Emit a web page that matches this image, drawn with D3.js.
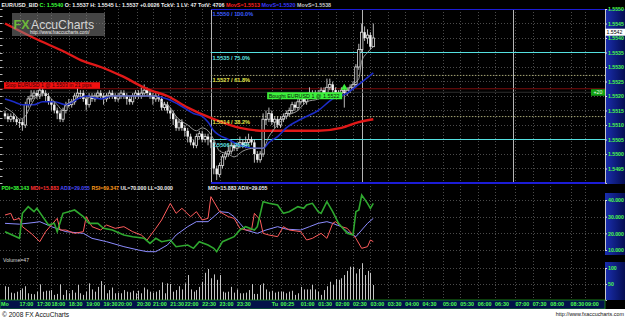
<!DOCTYPE html>
<html>
<head>
<meta charset="utf-8">
<script src="https://cdn.jsdelivr.net/npm/d3@7"></script>
<style>
  html, body { margin: 0; padding: 0; background: #000; }
  svg { display: block; font-family: "Liberation Sans", Arial, sans-serif; }
</style>
</head>
<body>
<div id="chart"></div>
<script>
/* ============================================================
   DATA  (5 minute EUR/USD bars)
============================================================ */

const firstOpen = 1.5514;

const closes = [
  1.5513,1.5512,1.5513,1.5512,1.5511,1.5511,1.5510,1.5517,1.5519,1.5520,
  1.5521,1.5520,1.5522,1.5521,1.5520,1.5518,1.5517,1.5515,1.5514,1.5512,
  1.5515,1.5517,1.5517,1.5518,1.5520,1.5521,1.5521,1.5519,1.5517,1.5520,
  1.5519,1.5520,1.5521,1.5520,1.5519,1.5520,1.5521,1.5520,1.5519,1.5520,
  1.5521,1.5520,1.5519,1.5518,1.5520,1.5521,1.5520,1.5521,1.5522,1.5521,
  1.5520,1.5519,1.5520,1.5519,1.5516,1.5517,1.5515,1.5514,1.5512,1.5509,
  1.5511,1.5509,1.5508,1.5506,1.5504,1.5503,1.5506,1.5507,1.5505,1.5506,
  1.5505,1.5504,1.5495,1.5493,1.5496,1.5499,1.5500,1.5501,1.5503,1.5502,
  1.5503,1.5504,1.5503,1.5504,1.5505,1.5504,1.5500,1.5498,1.5500,1.5512,
  1.5512,1.5514,1.5511,1.5512,1.5510,1.5512,1.5513,1.5514,1.5515,1.5517,
  1.5516,1.5518,1.5519,1.5518,1.5520,1.5521,1.5520,1.5521,1.5520,1.5522,
  1.5521,1.5523,1.5524,1.5522,1.5520,1.5521,1.5522,1.5521,1.5522,1.5523,
  1.5524,1.5530,1.5536,1.5542,1.5540,1.5541,1.5537,1.5540
];

const highs = [
  1.5515,1.5514,1.5514,1.5514,1.5513,1.5512,1.5512,1.5518,1.5520,1.5522,
  1.5522,1.5522,1.5523,1.5523,1.5522,1.5521,1.5519,1.5518,1.5516,1.5515,
  1.5516,1.5518,1.5519,1.5519,1.5521,1.5523,1.5522,1.5522,1.5520,1.5521,
  1.5521,1.5521,1.5522,1.5522,1.5521,1.5521,1.5522,1.5522,1.5521,1.5521,
  1.5522,1.5522,1.5521,1.5520,1.5521,1.5522,1.5522,1.5523,1.5524,1.5523,
  1.5522,1.5521,1.5521,1.5521,1.5520,1.5518,1.5518,1.5516,1.5515,1.5513,
  1.5512,1.5512,1.5510,1.5509,1.5507,1.5505,1.5507,1.5508,1.5508,1.5507,
  1.5507,1.5506,1.5505,1.5496,1.5497,1.5500,1.5501,1.5503,1.5505,1.5504,
  1.5504,1.5506,1.5505,1.5506,1.5507,1.5506,1.5505,1.5501,1.5501,1.5514,
  1.5515,1.5516,1.5515,1.5513,1.5513,1.5513,1.5514,1.5515,1.5516,1.5518,
  1.5518,1.5519,1.5520,1.5520,1.5521,1.5523,1.5522,1.5522,1.5522,1.5523,
  1.5523,1.5526,1.5526,1.5525,1.5523,1.5522,1.5523,1.5523,1.5523,1.5524,
  1.5525,1.5531,1.5538,1.5545,1.5544,1.5543,1.5542,1.5545
];

const lows = [
  1.5512,1.5511,1.5511,1.5511,1.5510,1.5509,1.5508,1.5509,1.5516,1.5518,
  1.5519,1.5519,1.5519,1.5520,1.5518,1.5517,1.5515,1.5514,1.5512,1.5511,
  1.5511,1.5514,1.5516,1.5516,1.5517,1.5519,1.5519,1.5518,1.5515,1.5516,
  1.5518,1.5518,1.5519,1.5519,1.5517,1.5518,1.5519,1.5519,1.5518,1.5518,
  1.5519,1.5519,1.5517,1.5517,1.5517,1.5519,1.5519,1.5519,1.5520,1.5520,
  1.5519,1.5517,1.5518,1.5518,1.5515,1.5515,1.5514,1.5512,1.5510,1.5508,
  1.5508,1.5508,1.5506,1.5504,1.5503,1.5502,1.5502,1.5505,1.5504,1.5504,
  1.5503,1.5502,1.5493,1.5491,1.5492,1.5495,1.5498,1.5499,1.5500,1.5501,
  1.5501,1.5502,1.5502,1.5502,1.5503,1.5503,1.5497,1.5497,1.5497,1.5499,
  1.5510,1.5511,1.5510,1.5509,1.5509,1.5509,1.5511,1.5512,1.5513,1.5514,
  1.5515,1.5515,1.5517,1.5517,1.5517,1.5519,1.5519,1.5519,1.5519,1.5519,
  1.5520,1.5520,1.5522,1.5521,1.5519,1.5519,1.5520,1.5516,1.5520,1.5521,
  1.5522,1.5523,1.5529,1.5535,1.5539,1.5538,1.5536,1.5537
];

const volumes = [
  43,41,23,21,26,31,36,43,21,19,
  18,26,49,26,29,29,31,16,19,49,
  16,31,21,31,23,47,21,16,26,52,
  33,26,41,59,47,21,31,39,21,23,
  21,31,26,24,29,21,29,21,39,33,
  26,23,26,31,55,21,52,50,26,31,
  43,33,52,78,33,26,31,41,57,85,
  97,68,80,63,78,26,23,26,41,23,
  33,21,21,23,31,50,19,19,47,52,
  33,26,29,23,26,26,26,21,26,29,
  16,21,41,33,33,33,47,33,26,16,
  31,43,57,47,65,63,68,78,91,104,
  104,83,97,115,78,91,85,47
];

// moving averages, [bar, price]
const maSlow = [[0,1.5545],[10,1.5540],[21,1.5535],[27,1.5532],[33,1.5530],[40,1.5527],[50,1.5522],
  [56,1.5520],[63,1.5516],[72,1.5512],[81,1.5509],[90,1.5508],[100,1.5508],[108,1.5508],
  [116,1.5509],[122,1.5511],[127,1.5512]];
const maMid = [[0,1.5519],[3,1.5518],[6,1.5517],[10,1.5517],[13,1.5518],[17,1.5518],[21,1.5517],
  [25,1.5519],[28,1.5520],[33,1.5519],[37,1.5520],[42,1.5520],[47,1.5520],[51,1.5520],[56,1.5519],
  [60,1.5517],[65,1.5514],[68,1.5513],[70,1.5511],[72,1.5508],[77,1.5505],[81,1.5503],[86,1.5502],
  [89,1.5502],[91,1.5504],[94,1.5506],[97,1.5509],[102,1.5512],[108,1.5515],[113,1.5519],
  [118,1.5521],[122,1.5524],[127,1.5528]];
const maFast = [[0,1.5516],[3,1.5514],[5,1.5512],[7,1.5513],[9,1.5517],[11,1.5520],[14,1.5521],
  [16,1.5519],[18,1.5517],[20,1.5515],[21,1.5517],[23,1.5518],[26,1.5520],[28,1.5519],[30,1.5520],
  [35,1.5520],[41,1.5520],[44,1.5520],[49,1.5520],[52,1.5520],[54,1.5518],[57,1.5516],[59,1.5513],
  [63,1.5510],[66,1.5508],[68,1.5509],[70,1.5508],[72,1.5505],[74,1.5501],[77,1.5500],[79,1.5499],
  [82,1.5501],[86,1.5502],[89,1.5502],[91,1.5506],[94,1.5510],[97,1.5513],[101,1.5515],
  [104,1.5518],[108,1.5519],[111,1.5521],[114,1.5521],[118,1.5522],[120,1.5524],[122,1.5526],
  [123,1.5532],[125,1.5535],[127,1.5537]];

// DMI indicator, [bar, value]
const pdi = [[0,21],[5,17],[6,32],[8,36],[10,33],[11,35],[13,30],[15,25],[17,26],[18,21],[20,32],
  [22,33],[24,34],[27,30],[29,26],[32,26],[34,23],[37,22],[41,19],[44,18],[48,17],[50,14],[52,17],
  [54,15],[57,16],[59,12],[63,13],[65,11],[67,15],[70,13],[72,11],[73,9],[75,15],[79,18],[81,22],
  [83,24],[86,22],[87,24],[89,39],[91,38],[94,37],[96,32],[98,33],[101,36],[103,35],[104,37],
  [106,38],[108,33],[109,32],[111,39],[113,33],[115,26],[118,20],[120,19],[121,33],[122,34],
  [123,43],[125,38],[126,35],[127,38]];
const mdi = [[0,31],[2,32],[3,28],[5,29],[6,24],[9,20],[12,15],[14,21],[16,25],[18,29],[19,22],
  [21,22],[24,20],[27,21],[28,30],[30,24],[33,22],[35,25],[38,23],[41,24],[44,21],[47,19],[49,16],
  [52,23],[54,28],[57,38],[59,32],[61,35],[64,30],[66,33],[68,28],[70,29],[71,42],[74,33],[77,30],
  [79,29],[81,23],[83,22],[85,22],[86,32],[88,28],[89,20],[91,19],[94,18],[96,24],[98,22],[102,21],
  [104,16],[106,17],[109,20],[111,17],[113,26],[114,27],[116,24],[118,23],[121,17],[123,11],
  [125,12],[126,16],[127,15]];
const adx = [[0,26],[5,25.5],[10,26.5],[12,27],[16,24],[21,21],[27,20],[30,17],[35,15],[41,12],
  [46,10],[49,9],[52,9],[56,13],[59,19],[63,24],[66,27],[70,27],[72,30],[74,33],[77,32.5],[79,30],
  [81,26],[83,22],[87,20],[90,22],[94,24],[97,22.5],[102,22],[105,24],[108,26],[111,27],[113,26],
  [116,24],[118,21],[121,18],[123,22],[125,26],[127,29]];

// Fibonacci retracement
const fibPrices = [1.5550, 1.5535, 1.55271, 1.55129, 1.5505, 1.5490];
const fibLabels = ["1.5550 / 100.0%", "1.5535 / 75.0%", "1.5527 / 61.8%", "1.5514 / 38.2%", "1.5506 / 25.0%", ""];
const fibTimeBars = [71, 123, 175];

// time axis
const timeLabels = ["Mo","17:00","17:30","18:00","18:30","19:00","19:30","20:00","20:30","21:00",
  "21:30","22:00","22:30","23:00","23:30","Tu","00:25","01:00","01:30","02:00","02:30","03:00",
  "03:30","04:00","04:30","05:00","05:30","06:00","06:30","07:00","07:30","08:00","08:30","09:00"];
const timeBars = [-1.4,5,11,16,22,28,34,39,45.5,51,57,62,68,74,80,92,95,102,108,114,120,126,
  132,138,144,151,157,163,169,176,182,188,195,200];

const priceTicks = [1.5495,1.5500,1.5505,1.5510,1.5515,1.5520,1.5525,1.5530,1.5535,1.5540,1.5545,1.5550];
const dmiTicks = [10, 20, 30, 40];
const volTicks = [50, 100];

const tradePrice = 1.55225;
const lastPrice = 1.5542;

/* ============================================================
   SVG + SCALES
============================================================ */

const W = 625, H = 318;
const svg = d3.select("#chart").append("svg").attr("width", W).attr("height", H);

svg.append("rect").attr("width", W).attr("height", H).attr("fill", "#000");

const x = d3.scaleLinear().domain([0, 200]).range([5, 585]);
const yP = d3.scaleLinear().domain([1.5490, 1.5550]).range([183, 9]);
const yI = d3.scaleLinear().domain([10, 40]).range([250, 200]);
const yV = d3.scaleLinear().domain([0, 100]).range([300, 268]);

const defs = svg.append("defs");
const grad = defs.append("linearGradient").attr("id", "axisBg").attr("x1", 0).attr("x2", 1);
grad.append("stop").attr("offset", 0).attr("stop-color", "#1a2fb0");
grad.append("stop").attr("offset", 1).attr("stop-color", "#050d52");

defs.append("clipPath").attr("id", "clipMain")
  .append("rect").attr("x", 0).attr("y", 9).attr("width", 605).attr("height", 176);
defs.append("clipPath").attr("id", "clipInd")
  .append("rect").attr("x", 0).attr("y", 185).attr("width", 605).attr("height", 71);

/* ============================================================
   GRID
============================================================ */

const grid = svg.append("g").attr("stroke", "#4a4a4a").attr("stroke-dasharray", "1,2");

grid.selectAll("line.v")
  .data(timeBars.slice(1))
  .join("line")
  .attr("x1", d => Math.round(x(d)) + 0.5).attr("x2", d => Math.round(x(d)) + 0.5)
  .attr("y1", 9).attr("y2", 300);

grid.selectAll("line.hp")
  .data(priceTicks.slice(0, -1))
  .join("line")
  .attr("x1", 0).attr("x2", 605)
  .attr("y1", d => Math.round(yP(d)) + 0.5).attr("y2", d => Math.round(yP(d)) + 0.5);

grid.selectAll("line.hi")
  .data(dmiTicks)
  .join("line")
  .attr("x1", 0).attr("x2", 605)
  .attr("y1", d => Math.round(yI(d)) + 0.5).attr("y2", d => Math.round(yI(d)) + 0.5);

grid.selectAll("line.hv")
  .data(volTicks)
  .join("line")
  .attr("x1", 0).attr("x2", 605)
  .attr("y1", d => Math.round(yV(d)) + 0.5).attr("y2", d => Math.round(yV(d)) + 0.5);

// little ticks on the left edge of the price panel
svg.append("g").selectAll("line")
  .data(d3.range(1.5490, 1.5551, 0.00025))
  .join("line")
  .attr("x1", 0).attr("x2", 2.5)
  .attr("y1", d => Math.round(yP(d)) + 0.5).attr("y2", d => Math.round(yP(d)) + 0.5)
  .attr("stroke", "#bbb");

/* ============================================================
   PRICE PANEL
============================================================ */

const main = svg.append("g").attr("clip-path", "url(#clipMain)");

// fib time lines
main.selectAll("line.ft")
  .data(fibTimeBars)
  .join("line")
  .attr("x1", d => Math.round(x(d)) + 0.5).attr("x2", d => Math.round(x(d)) + 0.5)
  .attr("y1", 9).attr("y2", 183)
  .attr("stroke", "#b4b4b4");

// trade line
main.append("line")
  .attr("x1", 0).attr("x2", 605)
  .attr("y1", yP(tradePrice)).attr("y2", yP(tradePrice))
  .attr("stroke", "#7a0b0b").attr("stroke-width", 1.2);
main.append("line")
  .attr("x1", 0).attr("x2", 605)
  .attr("y1", yP(tradePrice) + 3.5).attr("y2", yP(tradePrice) + 3.5)
  .attr("stroke", "#2e2e2e");

// fib levels
const fibStroke = ["#1c1cd6", "#54e0e0", "#a8a878", "#a8a878", "#54e0e0", "#1c1cd6"];
const fibWidth = [2.2, 1.2, 1, 1, 1.2, 2.2];
const fibDash = [null, null, "1.5,1.5", "1.5,1.5", null, null];
const fibText = ["#3a5cff", "#5fe6e6", "#e6e64a", "#e6e64a", "#5fe6e6", "#3a5cff"];

main.selectAll("line.fib")
  .data(fibPrices)
  .join("line")
  .attr("x1", x(fibTimeBars[0])).attr("x2", 605)
  .attr("y1", d => yP(d)).attr("y2", d => yP(d))
  .attr("stroke", (d, i) => fibStroke[i])
  .attr("stroke-width", (d, i) => fibWidth[i])
  .attr("stroke-dasharray", (d, i) => fibDash[i]);

// candles
const bars = closes.map((c, i) => ({
  i,
  open: i ? closes[i - 1] : firstOpen,
  close: c,
  high: highs[i],
  low: lows[i]
}));

const candles = main.append("g");
candles.selectAll("line")
  .data(bars)
  .join("line")
  .attr("x1", d => x(d.i)).attr("x2", d => x(d.i))
  .attr("y1", d => yP(d.high)).attr("y2", d => yP(d.low))
  .attr("stroke", "#d0d0d0").attr("stroke-width", 0.9);

candles.selectAll("rect")
  .data(bars)
  .join("rect")
  .attr("x", d => x(d.i) - 1.2)
  .attr("width", 2.4)
  .attr("y", d => yP(Math.max(d.open, d.close)))
  .attr("height", d => Math.max(1, Math.abs(yP(d.open) - yP(d.close))))
  .attr("fill", d => d.close > d.open ? "#000" : "#f4f4f4")
  .attr("stroke", d => d.close > d.open ? "#e0e0e0" : "none")
  .attr("stroke-width", 0.8);

// moving averages
const maLine = d3.line()
  .x(d => x(d[0]))
  .y(d => yP(d[1]))
  .curve(d3.curveMonotoneX);

main.append("path").datum(maSlow).attr("d", maLine)
  .attr("fill", "none").attr("stroke", "#e01818").attr("stroke-width", 2.4);
main.append("path").datum(maMid).attr("d", maLine)
  .attr("fill", "none").attr("stroke", "#1c2cc8").attr("stroke-width", 1.6);
main.append("path").datum(maFast).attr("d", maLine)
  .attr("fill", "none").attr("stroke", "#a8a8a8").attr("stroke-width", 0.9);

// fib labels
main.selectAll("text.fib")
  .data(fibPrices)
  .join("text")
  .attr("x", x(fibTimeBars[0]) + 1.5)
  .attr("y", d => yP(d) + 7)
  .attr("font-size", 5.6).attr("font-weight", "bold")
  .attr("fill", (d, i) => fibText[i])
  .text((d, i) => fibLabels[i]);

// stop label
const stop = svg.append("g").attr("transform", `translate(4,${yP(tradePrice) - 6.5})`);
stop.append("rect").attr("width", 96).attr("height", 6.5).attr("fill", "#f01010");
stop.append("text").attr("x", 1.5).attr("y", 5.2)
  .attr("font-size", 5.2).attr("fill", "#3a0000")
  .text("Stop EURUSD 1 @  1.5503 in 21 pips");

// bought label + marker
const bought = svg.append("g").attr("transform", `translate(${x(90.4)},${yP(tradePrice) + 3.5})`);
bought.append("rect").attr("width", 75).attr("height", 7).attr("fill", "#3cf03c");
bought.append("text").attr("x", 1.5).attr("y", 5.5)
  .attr("font-size", 5.4).attr("fill", "#062006")
  .text("Bought EURUSD 1 @ 1.5522");

svg.append("path")
  .attr("d", d3.symbol(d3.symbolTriangle, 22)())
  .attr("transform", `translate(${x(117)},${yP(tradePrice) - 1})`)
  .attr("fill", "#3cf03c");

svg.append("rect").attr("x", 591).attr("y", yP(tradePrice) + 0.5)
  .attr("width", 14).attr("height", 6.5).attr("fill", "#12a012");
svg.append("text").attr("x", 598).attr("y", yP(tradePrice) + 5.6)
  .attr("text-anchor", "middle").attr("font-size", 5.2).attr("fill", "#e8ffe8")
  .text("+20");

/* ============================================================
   DMI PANEL
============================================================ */

const ind = svg.append("g").attr("clip-path", "url(#clipInd)");
const iLine = d3.line().x(d => x(d[0])).y(d => yI(d[1]));

ind.append("path").datum(adx).attr("d", iLine)
  .attr("fill", "none").attr("stroke", "#8c8cff").attr("stroke-width", 1);
ind.append("path").datum(mdi).attr("d", iLine)
  .attr("fill", "none").attr("stroke", "#ff5c5c").attr("stroke-width", 1);
ind.append("path").datum(pdi).attr("d", iLine)
  .attr("fill", "none").attr("stroke", "#2fa82f").attr("stroke-width", 1.6);

/* ============================================================
   VOLUME PANEL
============================================================ */

svg.append("g").selectAll("line")
  .data(volumes)
  .join("line")
  .attr("x1", (d, i) => Math.round(x(i)) + 0.5).attr("x2", (d, i) => Math.round(x(i)) + 0.5)
  .attr("y1", yV(0)).attr("y2", d => yV(d))
  .attr("stroke", "#c4c4c4");

/* ============================================================
   RIGHT AXES
============================================================ */

function rightAxis(y0, h, scale, ticks, fmt) {
  svg.append("rect").attr("x", 605).attr("y", y0).attr("width", 20).attr("height", h)
    .attr("fill", "url(#axisBg)");
  const ax = svg.append("g").attr("transform", "translate(605,0)")
    .call(d3.axisRight(scale).tickValues(ticks).tickFormat(fmt).tickSize(2).tickPadding(1));
  ax.select(".domain").attr("stroke", "#c8c8c8");
  ax.selectAll(".tick line").attr("stroke", "#e0e0e0");
  ax.selectAll(".tick text")
    .attr("fill", "#4cff4c").attr("font-size", 5.2).attr("font-weight", "bold")
    .attr("font-family", "'Liberation Sans', Arial, sans-serif");
}

rightAxis(9, 175, yP, priceTicks, d3.format(".4f"));
rightAxis(193, 62, yI, dmiTicks, d3.format(".3f"));
rightAxis(262, 38, yV, volTicks, d3.format("d"));

// last price tag
svg.append("rect").attr("x", 605).attr("y", yP(lastPrice) - 3.5)
  .attr("width", 20).attr("height", 7).attr("fill", "#fff");
svg.append("text").attr("x", 606.5).attr("y", yP(lastPrice) + 2)
  .attr("font-size", 5.2).attr("fill", "#000")
  .text(d3.format(".4f")(lastPrice));

/* ============================================================
   TIME AXIS STRIP + FOOTER
============================================================ */

svg.append("rect").attr("x", 0).attr("y", 300).attr("width", 605).attr("height", 9)
  .attr("fill", "#03124a").attr("stroke", "#1f9a1f").attr("stroke-width", 0.8);

const tAxis = svg.append("g").attr("transform", "translate(0,300)")
  .call(d3.axisBottom(x).tickValues(timeBars).tickSize(0).tickPadding(0)
    .tickFormat((d, i) => timeLabels[i]));
tAxis.select(".domain").remove();
tAxis.selectAll(".tick text")
  .attr("text-anchor", "start").attr("dx", "-0.5").attr("y", 2)
  .attr("fill", "#4cff4c").attr("font-size", 5.4).attr("font-weight", "bold")
  .attr("font-family", "'Liberation Sans', Arial, sans-serif");

svg.append("rect").attr("x", 0).attr("y", 309).attr("width", W).attr("height", 9).attr("fill", "#fff");
svg.append("text").attr("x", 2).attr("y", 316.5)
  .attr("font-size", 6.6).attr("fill", "#111")
  .text("© 2008 FX AccuCharts");
svg.append("text").attr("x", 624).attr("y", 316)
  .attr("text-anchor", "end").attr("font-size", 5.4).attr("fill", "#111")
  .text("http://www.fxaccucharts.com");

/* ============================================================
   HEADERS, LABELS, LOGO
============================================================ */

const head = svg.append("text").attr("x", 1.5).attr("y", 7)
  .attr("font-size", 5.4).attr("font-weight", "bold");
[
  ["EUR/USD_BID ", "#f0f0f0"],
  ["C: 1.5540 ", "#3cff3c"],
  ["O: 1.5537 H: 1.5545 L: 1.5537 +0.0026 TckV: 1 LV: 47 TotV: 4706 ", "#f0f0f0"],
  ["MovS=1.5513 ", "#ff2020"],
  ["MovS=1.5520 ", "#3a3aff"],
  ["MovS=1.5538", "#c8c8c8"]
].forEach(([t, c]) => head.append("tspan").attr("fill", c).text(t));

const dmiHead = svg.append("text").attr("x", 1.5).attr("y", 190)
  .attr("font-size", 5.2).attr("font-weight", "bold");
[
  ["PDI=38.143 ", "#3cff3c"],
  ["MDI=15.883 ", "#ff3030"],
  ["ADX=29.055 ", "#4a4aff"],
  ["RSI=69.347 ", "#ff9a1a"],
  ["UL=70.000 LL=30.000", "#f0f0f0"]
].forEach(([t, c]) => dmiHead.append("tspan").attr("fill", c).text(t));

svg.append("text").attr("x", 208).attr("y", 190)
  .attr("font-size", 5.2).attr("font-weight", "bold").attr("fill", "#f0f0f0")
  .text("MDI=15.883 ADX=29.055");

svg.append("text").attr("x", 3).attr("y", 261.5)
  .attr("font-size", 5.2).attr("fill", "#d8d8d8")
  .text("Volume=47");

const logo = svg.append("g");
logo.append("rect").attr("x", 12).attr("y", 13).attr("width", 93).attr("height", 23)
  .attr("fill", "#8a8a8a").attr("opacity", 0.5);
logo.append("text").attr("x", 13.5).attr("y", 28.5)
  .attr("font-size", 12.5).attr("font-weight", "bold").attr("fill", "#6cb83a")
  .text("FX");
logo.append("text").attr("x", 31).attr("y", 28.5)
  .attr("font-size", 12.2).attr("fill", "#d4d4d4")
  .text("AccuCharts");
logo.append("text").attr("x", 30).attr("y", 34)
  .attr("font-size", 4.6).attr("fill", "#f0f0f0")
  .text("http://www.fxaccucharts.com/");
</script>
</body>
</html>
